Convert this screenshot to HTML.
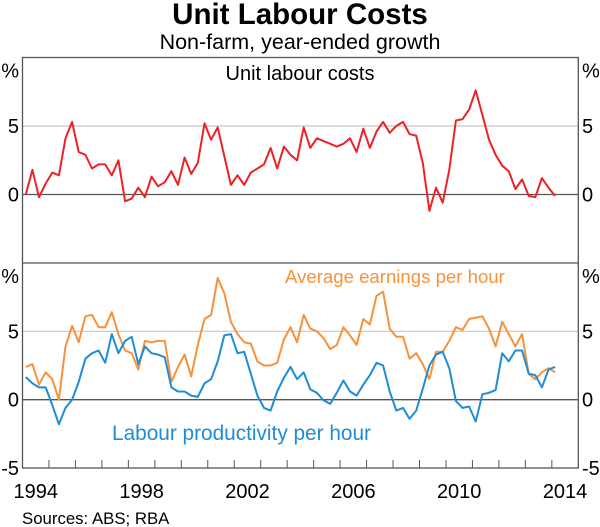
<!DOCTYPE html>
<html><head><meta charset="utf-8">
<style>
body{margin:0;background:#fff;}
svg{display:block;font-family:"Liberation Sans",Arial,sans-serif;}
</style></head>
<body>
<svg id="chart" width="600" height="527" viewBox="0 0 600 527" xmlns="http://www.w3.org/2000/svg">
<text x="300" y="24" text-anchor="middle" font-size="29.5" font-weight="bold" fill="#000">Unit Labour Costs</text>
<text x="300" y="49" text-anchor="middle" font-size="21.5" fill="#000">Non-farm, year-ended growth</text>
<g id="grid"></g>
<g id="series"></g>
<g id="frame"></g>
<text x="300" y="80" text-anchor="middle" font-size="20" fill="#000">Unit labour costs</text>
<text x="285" y="283" font-size="18.6" fill="#f7923a">Average earnings per hour</text>
<text x="112" y="440" font-size="20.8" fill="#1f8dd6">Labour productivity per hour</text>
<text x="22" y="524" font-size="16.8" fill="#000">Sources:  ABS; RBA</text>
</svg>
<script>
const startYear = 1994.125;
const ulc = [0,1.8,-0.2,0.8,1.6,1.4,4.1,5.3,3.1,2.9,1.9,2.2,2.2,1.4,2.5,-0.5,-0.3,0.5,-0.2,1.3,0.6,0.9,1.7,0.7,2.7,1.5,2.3,5.2,4.0,4.9,2.8,0.7,1.4,0.7,1.6,1.9,2.2,3.4,1.9,3.5,2.9,2.5,4.9,3.4,4.1,3.9,3.7,3.5,3.7,4.1,3.1,4.8,3.4,4.6,5.3,4.5,5.0,5.3,4.4,4.3,2.3,-1.2,0.5,-0.6,1.8,5.4,5.5,6.2,7.6,5.8,4.0,2.9,2.1,1.7,0.4,1.1,-0.1,-0.2,1.2,0.5,-0.1];
const earnings = [2.4,2.6,1.1,2.0,1.5,0,3.9,5.4,4.2,6.1,6.2,5.3,5.3,6.4,4.8,3.6,3.4,2.2,4.3,4.2,4.3,4.3,1.3,2.4,3.3,1.7,4.0,5.9,6.2,8.9,7.8,5.7,4.8,4.2,4.1,2.8,2.5,2.5,2.7,4.4,5.3,4.2,6.2,5.2,5.0,4.5,3.7,4.0,5.3,4.7,4.0,5.9,5.5,7.6,7.9,5.2,4.6,4.6,3.0,3.4,2.6,1.5,3.5,3.5,4.3,5.3,5.1,5.9,6.0,6.1,5.2,3.9,5.7,4.8,3.9,4.8,1.9,1.5,2.0,2.3,2.0];
const productivity = [1.65,1.2,0.9,0.9,-0.4,-1.8,-0.6,0,1.3,3.0,3.4,3.6,2.7,4.8,3.4,4.3,4.6,2.6,3.9,3.4,3.3,3.1,0.9,0.6,0.6,0.3,0.2,1.2,1.5,2.8,4.7,4.8,3.4,3.5,1.9,0.3,-0.6,-0.8,0.6,1.6,2.4,1.5,2.0,0.75,0.5,-0.05,-0.3,0.5,1.4,0.6,0.3,1.1,1.8,2.7,2.5,0.6,-0.8,-0.6,-1.4,-0.8,0.8,2.5,3.3,3.5,2.3,-0.1,-0.6,-0.5,-1.6,0.4,0.5,0.7,3.4,2.8,3.6,3.6,1.9,1.8,0.9,2.2,2.4];
const yTicks = [10,5,0,-5];
const yTickLabels = ["%","5","0","-5"];
const xLabels = [1994,1998,2002,2006,2010,2014];

const NS="http://www.w3.org/2000/svg";
const L=22.5,R=578.3,X0=1994,X1=2015;
const panels=[{top:57.5,bot:263},{top:263,bot:468}];
function x(t){return L+(t-X0)/(X1-X0)*(R-L);}
function y(p,v){const P=panels[p];return P.bot-(v+5)/15*(P.bot-P.top);}
function mk(tag,attrs,parent){const e=document.createElementNS(NS,tag);for(const k in attrs)e.setAttribute(k,attrs[k]);parent.appendChild(e);return e;}
const grid=document.getElementById('grid'),ser=document.getElementById('series'),frame=document.getElementById('frame');

for(let p=0;p<2;p++){
  let g=mk('line',{x1:L,x2:R,y1:y(p,5),y2:y(p,5),stroke:'#c8c8c8','stroke-width':1.2},grid);
  
  
  let z=mk('line',{x1:L,x2:R,y1:y(p,0),y2:y(p,0),stroke:'#555','stroke-width':1.3},grid);
  
  
  yTicks.forEach((v,i)=>{
    if(p===0&&v===-5)return;
    let lab=yTickLabels[i];
    let yy=y(p,v)+7;
    if(v===10)yy=y(p,v)+20;
    let tl=mk('text',{x:19,y:yy,'text-anchor':'end','font-size':20,fill:'#000'},frame);
    tl.textContent=lab;
    
    
    let tr=mk('text',{x:582,y:yy,'text-anchor':'start','font-size':20,fill:'#000'},frame);
    tr.textContent=lab;
    
    
  });
}
function line(data,p,color,name){
  const pts=data.map((v,i)=>x(startYear+0.25*i).toFixed(1)+','+y(p,v).toFixed(1)).join(' ');
  const e=mk('polyline',{points:pts,fill:'none',stroke:color,'stroke-width':2,'stroke-linejoin':'round'},ser);
  
  
}
line(ulc,0,'#ec2227','unit-labour-costs-line');
line(earnings,1,'#f7923a','average-earnings-line');
line(productivity,1,'#1f8dd6','labour-productivity-line');

const fr=mk('rect',{x:L,y:57.5,width:R-L,height:468-57.5,fill:'none',stroke:'#555','stroke-width':1.3},frame);


const dv=mk('line',{x1:L,x2:R,y1:263,y2:263,stroke:'#555','stroke-width':1.3},frame);


for(let yr=X0+1;yr<X1;yr++){
  const t=mk('line',{x1:x(yr),x2:x(yr),y1:468,y2:460,stroke:'#555','stroke-width':1},frame);
  
  
}
xLabels.forEach(yr=>{
  const t=mk('text',{x:x(yr+0.5),y:498,'text-anchor':'middle','font-size':20,fill:'#000'},frame);
  t.textContent=yr;
  
  
});
</script>
</body></html>
